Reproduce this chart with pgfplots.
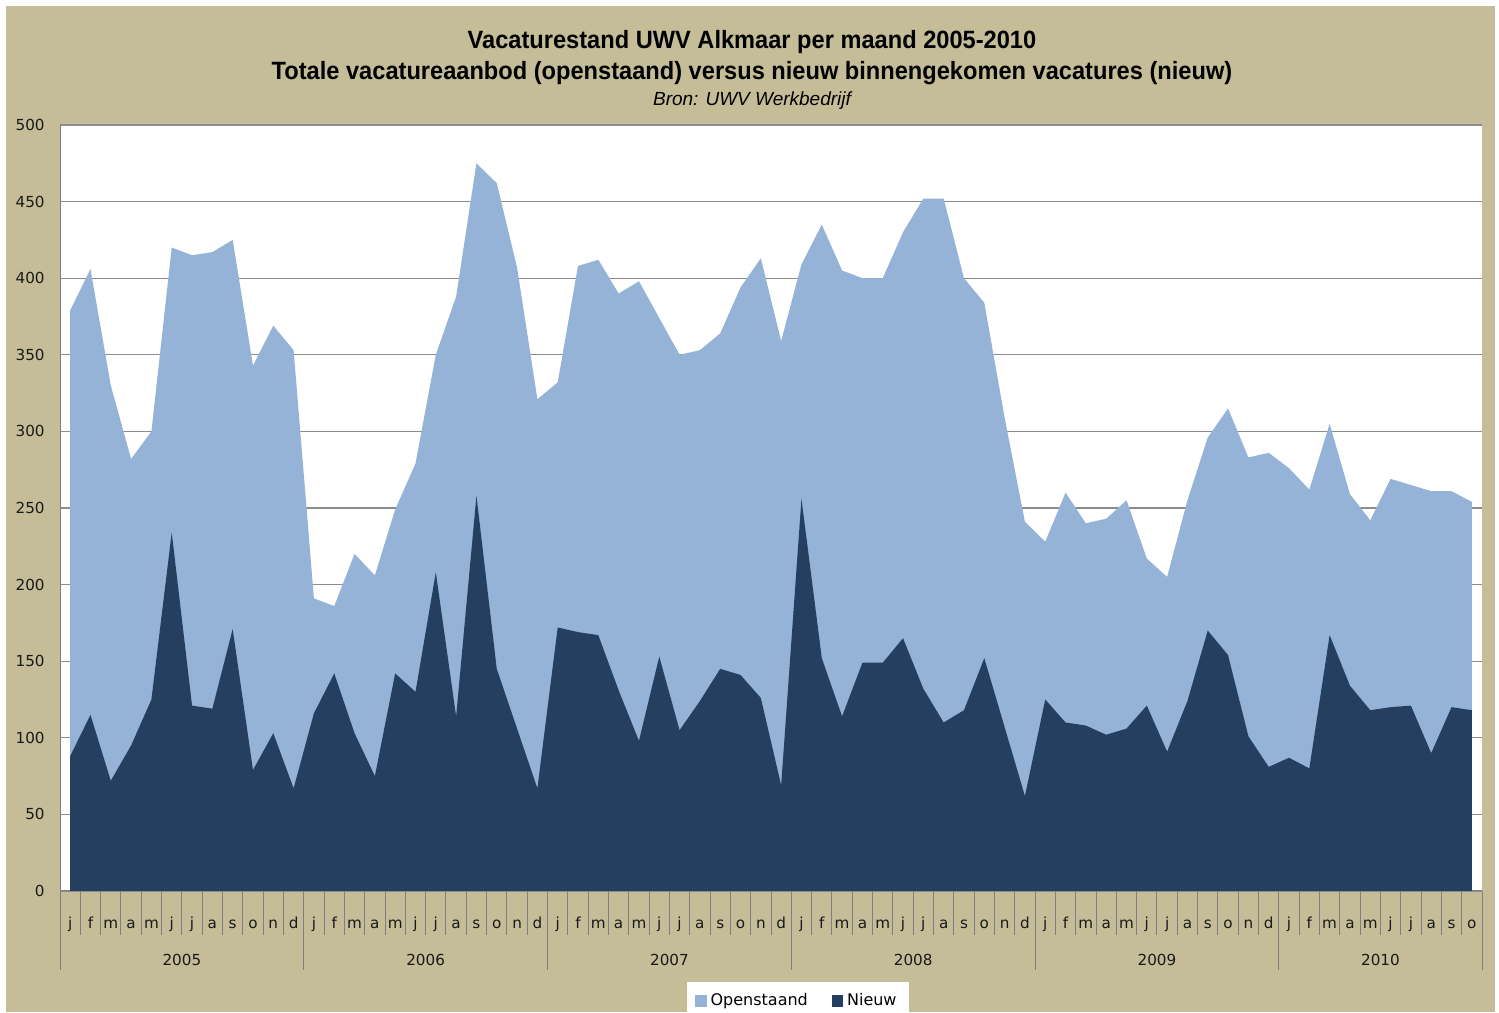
\documentclass[border=0pt]{standalone}
\usepackage{pgfplots}
\usepackage{pgfplotstable}
\pgfplotsset{compat=1.18}
\usepackage{fontspec}
\setmainfont{Liberation Sans}
\newfontfamily\dejavu{DejaVu Sans}

\definecolor{chartbg}{HTML}{C4BD97}
\definecolor{openblue}{HTML}{95B3D7}
\definecolor{newblue}{HTML}{243F60}
\definecolor{gridgray}{HTML}{8C8C8C}
\definecolor{tickgray}{HTML}{7F7F7F}

% i = month index (0 = jan 2005), open = openstaand, new = nieuw
\pgfplotstableread{
i open new
0 379 88
1 406 115
2 330 72
3 282 95
4 300 125
5 420 234
6 415 121
7 417 119
8 425 171
9 343 79
10 369 103
11 353 67
12 191 116
13 186 142
14 220 103
15 206 75
16 249 142
17 279 130
18 350 208
19 388 114
20 475 258
21 462 145
22 407 106
23 321 67
24 332 172
25 408 169
26 412 167
27 390 131
28 398 98
29 374 153
30 350 105
31 353 124
32 364 145
33 394 141
34 413 126
35 359 69
36 409 256
37 435 152
38 405 114
39 400 149
40 400 149
41 430 165
42 452 132
43 452 110
44 400 118
45 384 152
46 309 107
47 241 62
48 228 125
49 260 110
50 240 108
51 243 102
52 255 106
53 217 121
54 205 91
55 255 124
56 296 170
57 315 154
58 283 101
59 286 81
60 276 87
61 262 80
62 305 167
63 259 134
64 242 118
65 269 120
66 265 121
67 261 90
68 261 120
69 254 118
}\vacdata

\begin{document}
\begin{tikzpicture}
% page background
\fill[white] (0,0) rectangle (749.5pt,506pt);
\fill[chartbg] (3pt,0) rectangle (747.5pt,503pt);

% titles
\node[font=\fontsize{12.5}{14}\selectfont\bfseries] at (376pt,485pt)
  {\scalebox{0.945}[1]{Vacaturestand UWV Alkmaar per maand 2005-2010}};
\node[font=\fontsize{12.5}{14}\selectfont\bfseries] at (376pt,469.5pt)
  {\scalebox{0.945}[1]{Totale vacatureaanbod (openstaand) versus nieuw binnengekomen vacatures (nieuw)}};
\node[font=\fontsize{9.5}{10.5}\selectfont\itshape] at (376pt,455.5pt)
  {\scalebox{1.0}[1]{Bron: UWV Werkbedrijf}};

\begin{axis}[
  at={(30pt,60.5pt)}, anchor=south west,
  scale only axis, width=711pt, height=383pt,
  xmin=-0.5, xmax=69.5, ymin=0, ymax=500,
  axis background/.style={fill=white},
  axis lines=left, axis line style={-, draw=tickgray, line width=0.5pt},
  ytick={0,50,...,500},
  ymajorgrids, grid style={draw=gridgray, line width=0.65pt},
  ytick style={draw=none},
  yticklabel style={font=\fontsize{7.6}{8}\selectfont\dejavu, text=black!90, xshift=-2pt},
  /pgf/number format/assume math mode=true,
  xtick={0,...,69},
  xticklabels={j,f,m,a,m,j,j,a,s,o,n,d,
               j,f,m,a,m,j,j,a,s,o,n,d,
               j,f,m,a,m,j,j,a,s,o,n,d,
               j,f,m,a,m,j,j,a,s,o,n,d,
               j,f,m,a,m,j,j,a,s,o,n,d,
               j,f,m,a,m,j,j,a,s,o},
  xtick style={draw=none},
  xticklabel style={font=\fontsize{7.6}{8}\selectfont\dejavu, text=black!90,
    anchor=center, yshift=-13.5pt, text height=1.5ex, text depth=0.3ex},
  extra x ticks={-0.5,0.5,...,69.5},
  extra x tick labels={},
  extra x tick style={tick align=outside, major tick length=22pt,
    xtick style={draw=tickgray, line width=0.5pt}, grid=none},
  legend style={at={(axis description cs:0.519,-0.1436)}, anchor=center,
    legend columns=2, draw=none, fill=white,
    font=\fontsize{8}{9}\selectfont\dejavu,
    inner xsep=4pt, inner ysep=3.5pt,
    /tikz/every even column/.append style={column sep=10pt}},
  legend image code/.code={\fill[#1] (0pt,-2.8pt) rectangle (5.6pt,2.8pt);},
  clip=false,
]
\addplot[fill=openblue, draw=none] table[x=i,y=open]{\vacdata} \closedcycle;
\addlegendentry{Openstaand}
\addplot[fill=newblue, draw=none] table[x=i,y=new]{\vacdata} \closedcycle;
\addlegendentry{Nieuw}

% year separators and year names
\pgfplotsinvokeforeach{-0.5,11.5,23.5,35.5,47.5,59.5,69.5}{
  \draw[tickgray, line width=0.5pt] (axis cs:#1,0) -- ([yshift=-39.5pt]axis cs:#1,0);
}
\foreach \c/\y in {5.5/2005,17.5/2006,29.5/2007,41.5/2008,53.5/2009,64.5/2010}{
  \edef\tmp{\noexpand\node[font=\noexpand\fontsize{7.6}{8}\noexpand\selectfont\noexpand\dejavu, text=black!90]
    at (axis cs:\c,0) [yshift=-34.5pt] {\y};}
  \tmp
}
\end{axis}
\pgfresetboundingbox
\useasboundingbox (0,0) rectangle (749.5pt,506pt);
\end{tikzpicture}
\end{document}
